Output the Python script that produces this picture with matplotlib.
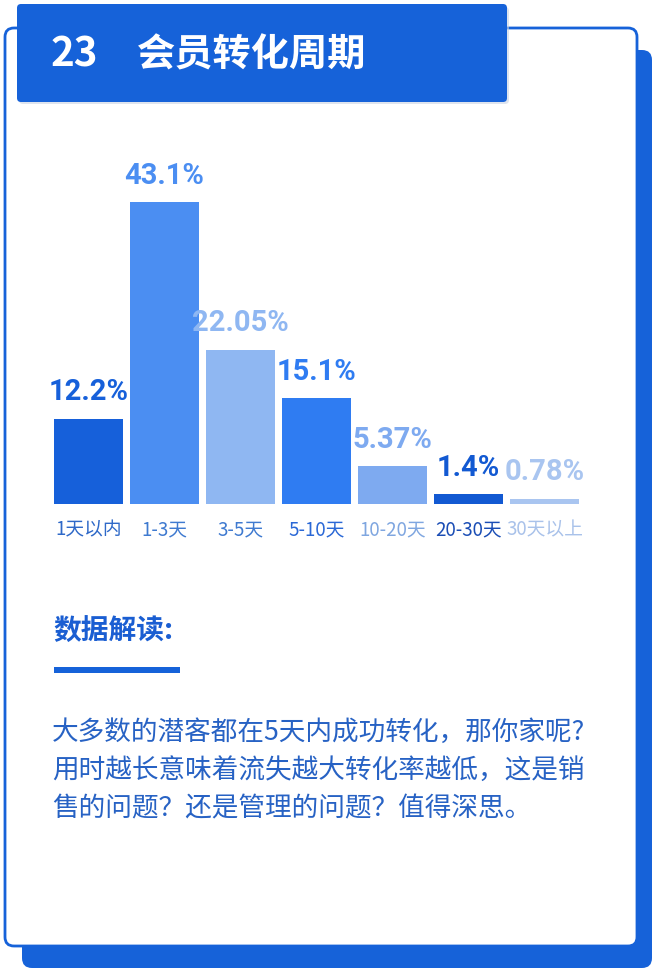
import matplotlib
matplotlib.use('Agg')

import matplotlib.pyplot as plt
from matplotlib.patches import FancyBboxPatch, Rectangle

plt.rcParams['font.family'] = ['Noto Sans CJK SC', 'DejaVu Sans']

# data
categories = ['1天以内', '1-3天', '3-5天', '5-10天', '10-20天', '20-30天', '30天以上']
values = [12.2, 43.1, 22.05, 15.1, 5.37, 1.4, 0.78]
value_labels = ['12.2%', '43.1%', '22.05%', '15.1%', '5.37%', '1.4%', '0.78%']
bar_colors = ['#1660da', '#4b8ef2', '#8fb7f2', '#2f7cf2', '#7eaaf0', '#1259d2', '#a9c5f0']
tick_colors = ['#2f69c8', '#3f7ad0', '#3f7ad0', '#2a68d6', '#7fa6e0', '#1a4db5', '#a9c2ea']

title_num = '23'
title_text = '会员转化周期'
sub_title = '数据解读:'
body_lines = ['大多数的潜客都在5天内成功转化，那你家呢?',
              '用时越长意味着流失越大转化率越低，这是销',
              '售的问题？还是管理的问题？值得深思。']

BLUE = '#1662d9'
W, H = 656, 972

fig = plt.figure(figsize=(W / 100, H / 100), dpi=100)
fig.patch.set_facecolor('white')

# background layer in pixel coords
bg = fig.add_axes([0, 0, 1, 1])
bg.set_xlim(0, W)
bg.set_ylim(H, 0)
bg.axis('off')

# shadow card + white card
bg.add_patch(FancyBboxPatch((22, 50), 630, 918, boxstyle='round,pad=0,rounding_size=10',
                            fc=BLUE, ec='none', zorder=1))
bg.add_patch(FancyBboxPatch((5, 28), 632, 918, boxstyle='round,pad=0,rounding_size=9',
                            fc='white', ec=BLUE, lw=2, zorder=2))
# title box
bg.add_patch(FancyBboxPatch((19, 7), 490, 97, boxstyle='round,pad=0,rounding_size=4',
                            fc='#c9d3e3', ec='none', zorder=3, alpha=0.6))
bg.add_patch(FancyBboxPatch((17, 4), 490, 98, boxstyle='round,pad=0,rounding_size=4',
                            fc=BLUE, ec='none', zorder=4))
bg.text(51, 55, title_num, color='white', fontsize=29, fontweight='bold',
        va='center', ha='left', zorder=5)
bg.text(137, 55, title_text, color='white', fontsize=27.5, fontweight='bold',
        va='center', ha='left', zorder=5)

# interpretation section
bg.text(53, 632, sub_title, color='#1a5ed2', fontsize=20, fontweight='bold',
        va='center', ha='left', zorder=5)
bg.add_patch(Rectangle((54, 667), 126, 6, fc=BLUE, ec='none', zorder=5))
for i, line in enumerate(body_lines):
    bg.text(52, 732 + i * 38.5, line, color='#2762c4', fontsize=19.2,
            va='center', ha='left', zorder=5)

# bar chart
x0, step = 50.5, 76
base_y, px_per = 504, 7.0
ymax = 50
ax = fig.add_axes([x0 / W, (H - base_y) / H, step * len(values) / W, ymax * px_per / H])
ax.set_zorder(6)
ax.patch.set_alpha(0)
x = list(range(len(values)))
ax.bar(x, values, width=0.895, color=bar_colors)
ax.set_xlim(-0.5, len(values) - 0.5)
ax.set_ylim(0, ymax)
for s in ax.spines.values():
    s.set_visible(False)
ax.set_yticks([])
ax.set_xticks(x)
ax.set_xticklabels(categories, fontsize=13.5)
ax.tick_params(axis='x', length=0, pad=11)
for lbl, c in zip(ax.get_xticklabels(), tick_colors):
    lbl.set_color(c)

for xi, v, t, c in zip(x, values, value_labels, bar_colors):
    ax.annotate(t, (xi, v), xytext=(0, 9), textcoords='offset points',
                ha='center', va='bottom', color=c, fontsize=21, fontweight='bold',
                family=['Roboto', 'DejaVu Sans'])

fig.savefig('out.png', dpi=100)
